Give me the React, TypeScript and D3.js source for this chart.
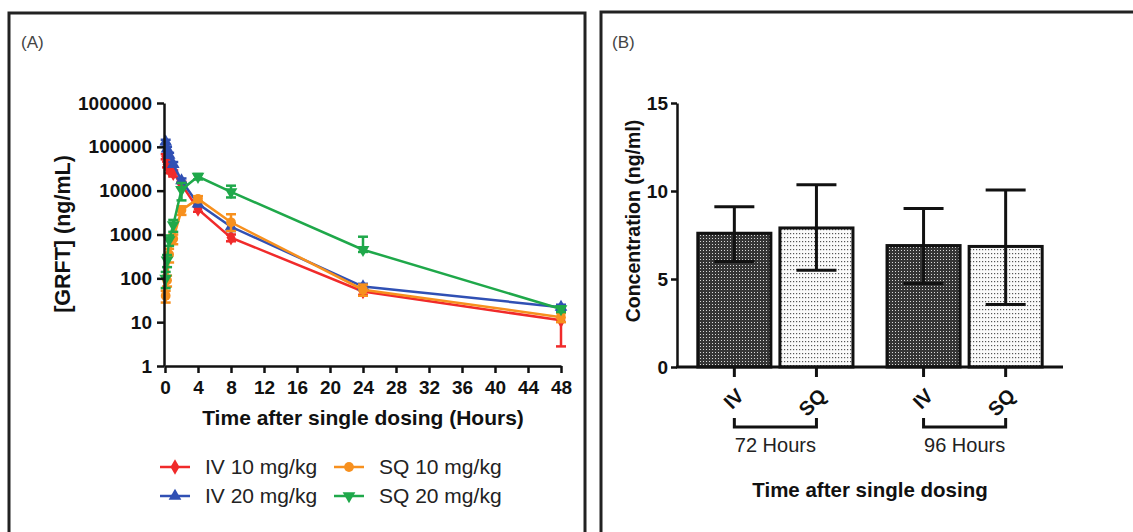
import React, { useEffect, useRef } from "react";
import * as d3 from "d3";

// Panel A: plasma GRFT after single dose (log scale)
const times = [0.083, 0.25, 0.5, 1, 2, 4, 8, 24, 48];

const iv10Mean = [60000, 40000, 30000, 25000, 14000, 3800, 850, 50, 11];
const iv10Low = [52000, 34000, 25000, 21000, 12000, 3300, 700, 42, 2.8];
const iv10High = [68000, 46000, 35000, 29000, 16000, 4300, 1000, 58, 19];

const iv20Mean = [130000, 90000, 65000, 40000, 17000, 5000, 1500, 65, 22];
const iv20Low = [115000, 80000, 57000, 35000, 15000, 4400, 1200, 55, 19];
const iv20High = [145000, 100000, 73000, 45000, 19000, 5600, 1800, 75, 25];

const sq10Mean = [40, 90, 350, 800, 3600, 6500, 1900, 55, 13];
const sq10Low = [28, 65, 230, 600, 2800, 5500, 1200, 40, 10];
const sq10High = [52, 115, 470, 1000, 4400, 7500, 2900, 72, 16];

const sq20Mean = [100, 260, 750, 1650, 10500, 21000, 9400, 450, 20];
const sq20Low = [60, 180, 550, 1150, 6000, 18000, 7000, 400, 17];
const sq20High = [140, 340, 950, 2150, 15000, 24000, 13000, 890, 23];

const yTicksA = [1, 10, 100, 1000, 10000, 100000, 1000000];
const xTicksA = [0, 4, 8, 12, 16, 20, 24, 28, 32, 36, 40, 44, 48];

// Panel B: concentration at 72 / 96 h
const groups = ["72 Hours", "96 Hours"];
const routes = ["IV", "SQ"];
const conc72 = [7.6, 7.9];
const conc72Low = [6.0, 5.5];
const conc72High = [9.1, 10.35];
const conc96 = [6.9, 6.85];
const conc96Low = [4.75, 3.55];
const conc96High = [9.0, 10.05];
const yTicksB = [0, 5, 10, 15];

const FONT = "'Liberation Sans', Arial, sans-serif";

type Series = {
  name: string;
  color: string;
  symbol: d3.SymbolType;
  rotate: number;
  size: number;
  mean: number[];
  low: number[];
  high: number[];
};

const App: React.FC = () => {
  const svgRef = useRef<SVGSVGElement | null>(null);

  useEffect(() => {
    if (!svgRef.current) return;
    document.body.style.margin = "0";
    const svg = d3.select(svgRef.current);
    svg.selectAll("*").remove();

    svg.append("rect").attr("width", 1133).attr("height", 532).attr("fill", "#fff");

    // panel frames
    svg.append("rect").attr("x", 9).attr("y", 13).attr("width", 576).attr("height", 560)
      .attr("fill", "none").attr("stroke", "#222").attr("stroke-width", 3);
    svg.append("rect").attr("x", 601).attr("y", 12).attr("width", 560).attr("height", 560)
      .attr("fill", "none").attr("stroke", "#222").attr("stroke-width", 3);

    svg.append("text").attr("x", 21).attr("y", 48).text("(A)")
      .attr("font-family", FONT).attr("font-size", 17).attr("fill", "#444");
    svg.append("text").attr("x", 612).attr("y", 48).text("(B)")
      .attr("font-family", FONT).attr("font-size", 17).attr("fill", "#444");

    // ---------- Panel A ----------
    const x = d3.scaleLinear().domain([0, 48]).range([165, 561]);
    const y = d3.scaleLog().domain([1, 1e6]).range([366, 103]);

    const series: Series[] = [
      { name: "IV 10 mg/kg", color: "#f02a2a", symbol: d3.symbolDiamond, rotate: 0, size: 70, mean: iv10Mean, low: iv10Low, high: iv10High },
      { name: "IV 20 mg/kg", color: "#3050b4", symbol: d3.symbolTriangle, rotate: 0, size: 70, mean: iv20Mean, low: iv20Low, high: iv20High },
      { name: "SQ 10 mg/kg", color: "#f7901e", symbol: d3.symbolCircle, rotate: 0, size: 75, mean: sq10Mean, low: sq10Low, high: sq10High },
      { name: "SQ 20 mg/kg", color: "#1fa84a", symbol: d3.symbolTriangle, rotate: 180, size: 70, mean: sq20Mean, low: sq20Low, high: sq20High },
    ];

    const gA = svg.append("g");
    const line = d3.line<number>().x((_, i) => x(times[i])).y((d) => y(d));

    series.forEach((s) => {
      const g = gA.append("g");
      g.append("path").attr("d", line(s.mean)).attr("fill", "none")
        .attr("stroke", s.color).attr("stroke-width", 2.5);
      s.mean.forEach((_, i) => {
        const cx = x(times[i]);
        g.append("line").attr("x1", cx).attr("x2", cx)
          .attr("y1", y(s.low[i])).attr("y2", y(s.high[i]))
          .attr("stroke", s.color).attr("stroke-width", 2.5);
        [s.low[i], s.high[i]].forEach((v) => {
          g.append("line").attr("x1", cx - 5).attr("x2", cx + 5)
            .attr("y1", y(v)).attr("y2", y(v))
            .attr("stroke", s.color).attr("stroke-width", 2.5);
        });
      });
      g.selectAll("path.sym").data(s.mean).join("path").attr("class", "sym")
        .attr("d", d3.symbol().type(s.symbol).size(s.size)())
        .attr("transform", (d, i) => `translate(${x(times[i])},${y(d)}) rotate(${s.rotate})`)
        .attr("fill", s.color);
    });

    const yAxisA = gA.append("g").attr("transform", "translate(164,0)")
      .call(d3.axisLeft(y).tickValues(yTicksA).tickFormat(d3.format("d")).tickSize(7).tickPadding(5).tickSizeOuter(0));
    const xAxisA = gA.append("g").attr("transform", "translate(0,366)")
      .call(d3.axisBottom(x).tickValues(xTicksA).tickSize(7).tickPadding(8).tickSizeOuter(0));
    [yAxisA, xAxisA].forEach((a) => {
      a.selectAll("path,line").attr("stroke", "#111").attr("stroke-width", 2.5);
      a.selectAll("text").attr("font-family", FONT).attr("font-size", 19)
        .attr("font-weight", "bold").attr("fill", "#111");
    });

    gA.append("text").attr("x", 363).attr("y", 425).attr("text-anchor", "middle")
      .text("Time after single dosing (Hours)").attr("font-family", FONT)
      .attr("font-size", 21).attr("font-weight", "bold").attr("fill", "#111");
    gA.append("text").attr("transform", "translate(70,234) rotate(-90)")
      .attr("text-anchor", "middle").text("[GRFT] (ng/mL)").attr("font-family", FONT)
      .attr("font-size", 21.5).attr("font-weight", "bold").attr("fill", "#111");

    // legend
    const legendPos = [
      [160, 467], [160, 496], [334, 467], [334, 496],
    ];
    series.forEach((s, i) => {
      const [lx, ly] = legendPos[i];
      const lg = gA.append("g").attr("transform", `translate(${lx},${ly})`);
      lg.append("line").attr("x1", 0).attr("x2", 30).attr("stroke", s.color).attr("stroke-width", 2.5);
      lg.append("path").attr("d", d3.symbol().type(s.symbol).size(s.size)())
        .attr("transform", `translate(15,0) rotate(${s.rotate})`).attr("fill", s.color);
      lg.append("text").attr("x", 45).attr("y", 7).text(s.name)
        .attr("font-family", FONT).attr("font-size", 21).attr("fill", "#222");
    });

    // ---------- Panel B ----------
    const defs = svg.append("defs");
    const dark = defs.append("pattern").attr("id", "dotsDark").attr("patternUnits", "userSpaceOnUse")
      .attr("width", 3).attr("height", 3);
    dark.append("rect").attr("width", 3).attr("height", 3).attr("fill", "#353535");
    dark.append("rect").attr("x", 1).attr("y", 1).attr("width", 1).attr("height", 1).attr("fill", "#d8d8d8");
    const light = defs.append("pattern").attr("id", "dotsLight").attr("patternUnits", "userSpaceOnUse")
      .attr("width", 3).attr("height", 4);
    light.append("rect").attr("width", 3).attr("height", 4).attr("fill", "#fafafa");
    light.append("rect").attr("x", 1).attr("y", 1).attr("width", 1.2).attr("height", 1.2).attr("fill", "#555");

    const yB = d3.scaleLinear().domain([0, 15]).range([367, 103]);
    const x0 = d3.scaleBand().domain(groups).range([677, 1063]).paddingInner(0.18).paddingOuter(0.11);
    const x1 = d3.scaleBand().domain(routes).range([0, x0.bandwidth()]).paddingInner(0.11);

    const barData = [
      { group: groups[0], values: conc72, low: conc72Low, high: conc72High },
      { group: groups[1], values: conc96, low: conc96Low, high: conc96High },
    ];

    const gB = svg.append("g");
    barData.forEach((gd) => {
      const gx = x0(gd.group) || 0;
      routes.forEach((r, i) => {
        const bx = gx + (x1(r) || 0);
        const cx = bx + x1.bandwidth() / 2;
        gB.append("rect").attr("x", bx).attr("y", yB(gd.values[i]))
          .attr("width", x1.bandwidth()).attr("height", yB(0) - yB(gd.values[i]))
          .attr("fill", i === 0 ? "url(#dotsDark)" : "url(#dotsLight)")
          .attr("stroke", "#111").attr("stroke-width", 3);
        gB.append("line").attr("x1", cx).attr("x2", cx)
          .attr("y1", yB(gd.low[i])).attr("y2", yB(gd.high[i]))
          .attr("stroke", "#111").attr("stroke-width", 3);
        [gd.low[i], gd.high[i]].forEach((v) => {
          gB.append("line").attr("x1", cx - 20).attr("x2", cx + 20)
            .attr("y1", yB(v)).attr("y2", yB(v)).attr("stroke", "#111").attr("stroke-width", 3);
        });
        // tick + rotated label
        gB.append("line").attr("x1", cx).attr("x2", cx).attr("y1", 367).attr("y2", 377)
          .attr("stroke", "#111").attr("stroke-width", 3);
        gB.append("text").attr("transform", `translate(${cx + 6},${392}) rotate(-45)`)
          .attr("text-anchor", "end").attr("dy", "0.35em").text(r)
          .attr("font-family", FONT).attr("font-size", 20).attr("font-weight", "bold").attr("fill", "#111");
      });
      const c1 = gx + (x1("IV") || 0) + x1.bandwidth() / 2;
      const c2 = gx + (x1("SQ") || 0) + x1.bandwidth() / 2;
      gB.append("path").attr("d", `M${c1},418V427H${c2}V418`).attr("fill", "none")
        .attr("stroke", "#111").attr("stroke-width", 3);
      gB.append("text").attr("x", (c1 + c2) / 2).attr("y", 452).attr("text-anchor", "middle")
        .text(gd.group).attr("font-family", FONT).attr("font-size", 20).attr("fill", "#222");
    });

    const yAxisB = gB.append("g").attr("transform", "translate(677,0)")
      .call(d3.axisLeft(yB).tickValues(yTicksB).tickSize(6).tickPadding(3).tickSizeOuter(0));
    yAxisB.selectAll("path,line").attr("stroke", "#111").attr("stroke-width", 2.5);
    yAxisB.selectAll("text").attr("font-family", FONT).attr("font-size", 19)
      .attr("font-weight", "bold").attr("fill", "#111");
    gB.append("line").attr("x1", 676).attr("x2", 1063).attr("y1", 367).attr("y2", 367)
      .attr("stroke", "#111").attr("stroke-width", 3);

    gB.append("text").attr("transform", "translate(640,221) rotate(-90)")
      .attr("text-anchor", "middle").text("Concentration (ng/ml)").attr("font-family", FONT)
      .attr("font-size", 19.5).attr("font-weight", "bold").attr("fill", "#111");
    gB.append("text").attr("x", 870).attr("y", 497).attr("text-anchor", "middle")
      .text("Time after single dosing").attr("font-family", FONT)
      .attr("font-size", 20.5).attr("font-weight", "bold").attr("fill", "#111");
  }, []);

  return <svg ref={svgRef} width={1133} height={532} style={{ display: "block" }}></svg>;
};

export default App;
